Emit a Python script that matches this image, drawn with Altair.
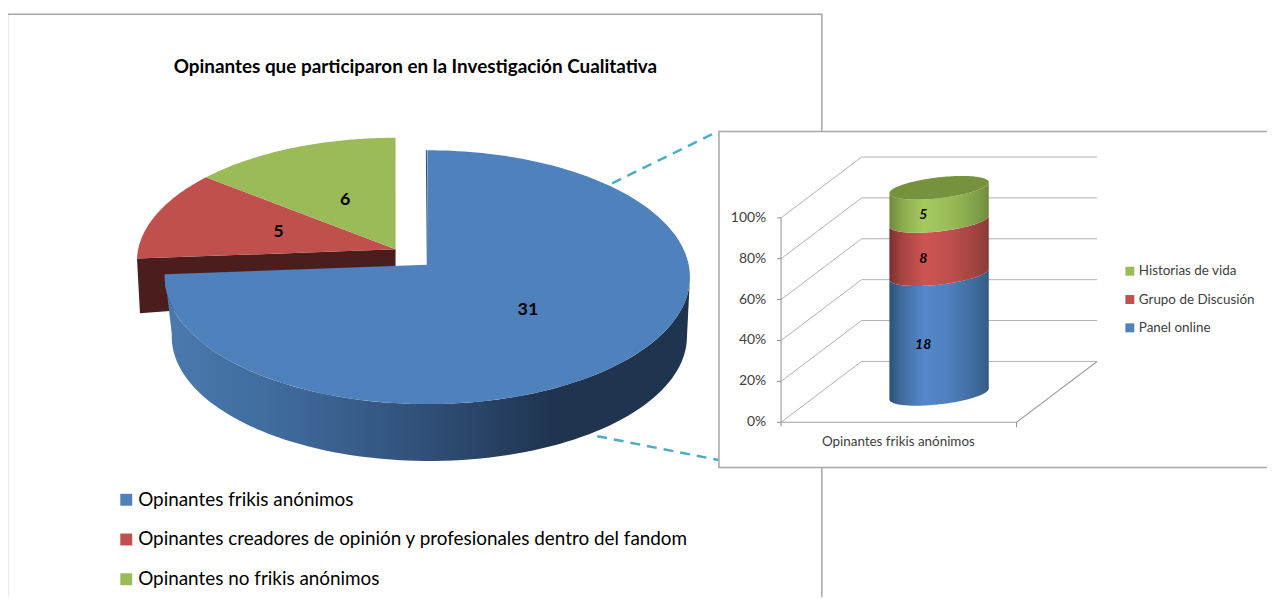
import math
import altair as alt
import pandas as pd

# ---- values
pie_categories = ["Opinantes frikis anónimos",
                  "Opinantes creadores de opinión y profesionales dentro del fandom",
                  "Opinantes no frikis anónimos"]
pie_values = [31, 5, 6]
pie_colors = ["#4f81bd", "#c0504d", "#9bbb59"]
stack_categories = ["Panel online", "Grupo de Discusión", "Historias de vida"]
stack_values = [18, 8, 5]
stack_colors = ["#4f81bd", "#c0504d", "#9bbb59"]
pct_ticks = [0, 20, 40, 60, 80, 100]
title_text = "Opinantes que participaron en la Investigación Cualitativa"
bar_category = "Opinantes frikis anónimos"

FONT = "Lato"
GRAY = "#a6a6a6"
TXT = "#404040"
X = alt.X("x:Q", scale=alt.Scale(domain=[8, 1275], nice=False, zero=False), axis=None)
Y = alt.Y("y:Q", scale=alt.Scale(domain=[599, 8], nice=False, zero=False), axis=None)
layers = []


def poly(points, fill):
    df = pd.DataFrame({"x": [p[0] for p in points], "y": [p[1] for p in points],
                       "o": list(range(len(points)))})
    layers.append(alt.Chart(df).mark_line(interpolate="linear-closed", fill=fill, strokeWidth=0)
                  .encode(x=X, y=Y, order="o:Q"))


def path(points, color, width=1.0, dash=None):
    df = pd.DataFrame({"x": [p[0] for p in points], "y": [p[1] for p in points],
                       "o": list(range(len(points)))})
    kw = {"strokeDash": dash} if dash else {}
    layers.append(alt.Chart(df).mark_line(color=color, strokeWidth=width, strokeCap="butt", **kw)
                  .encode(x=X, y=Y, order="o:Q"))


def text(s, x, y, size, color="#000000", weight="normal", style="normal", align="left"):
    df = pd.DataFrame({"x": [x], "y": [y], "t": [str(s)]})
    layers.append(alt.Chart(df).mark_text(font=FONT, fontSize=size, color=color, fontWeight=weight,
                                          fontStyle=style, align=align, baseline="middle")
                  .encode(x=X, y=Y, text="t:N"))


def swatch(x, y, side, color):
    df = pd.DataFrame({"x": [x], "y": [y]})
    layers.append(alt.Chart(df).mark_square(size=side * side, color=color, opacity=1, filled=True)
                  .encode(x=X, y=Y))


def hgrad(stops):
    return alt.Gradient(gradient="linear", x1=0, x2=1, y1=0, y2=0,
                        stops=[alt.GradientStop(offset=o, color=c) for o, c in stops])


# ---- outer frame
path([(7.5, 599), (7.5, 12.5), (827, 12.5), (827, 599)], GRAY, 1.5)
text(title_text, 418, 66, 19, weight="bold", align="center")

# ---- pie in perspective, angles from the values
K = 0.098
total = sum(pie_values)
angles = []
acc = 0
for v in pie_values:
    angles.append((acc * 360 / total, (acc + v) * 360 / total))
    acc += v


def proj(t, cx, cy, a, b):
    u, v = math.sin(math.radians(t)), math.cos(math.radians(t))
    d = 1 + K * v
    return (cx + a * u / d, cy - b * v / d)


def arc(t0, t1, cx, cy, a, b, n=90):
    return [proj(t0 + (t1 - t0) * i / n, cx, cy, a, b) for i in range(n + 1)]


BLUE = (430, 264.5, 263, 126.5)
BLUE_LOW = (432, 324.5, 258, 124)
EXPL = (398, 249, 259, 123.3)

# dark cut face of the red slice
r_end = proj(angles[1][0], *EXPL)
poly([(EXPL[0], EXPL[1]), r_end, (r_end[0] + 3, r_end[1] + 55), (EXPL[0], EXPL[1] + 45)], "#4b1e1d")
# exploded slices
for i in (1, 2):
    poly([(EXPL[0], EXPL[1])] + arc(angles[i][0], angles[i][1], *EXPL), pie_colors[i])
# blue wall
t_end = angles[0][1]
poly(arc(96, t_end, *BLUE) + arc(t_end, 96, *BLUE_LOW),
     hgrad([(0, "#4a7aaf"), (0.25, "#3d6899"), (0.5, "#304f78"), (0.74, "#1f344f"), (1, "#1f344f")]))
path([(BLUE[0] - 1, 149), (BLUE[0], BLUE[1])], "#2c4a70", 1)
# blue top face
poly([(BLUE[0], BLUE[1])] + arc(angles[0][0], t_end, *BLUE, n=180), pie_colors[0])

# pie labels at 49% of the radius along each slice's middle angle
for i, v in enumerate(pie_values):
    mid = sum(angles[i]) / 2
    g = BLUE if i == 0 else EXPL
    lx, ly = proj(mid, g[0], g[1], g[2] * 0.49, g[3] * 0.49)
    text(v, lx, ly, 18, weight="bold", align="center")

# pie legend
for i, c in enumerate(pie_categories):
    swatch(127, 501 + 40 * i, 12, pie_colors[i])
    text(c, 139, 501 + 40 * i, 19, color="#000000")

# connector lines
path([(616, 182.5), (723, 130)], "#4bacc6", 2.5, dash=[10, 7])
path([(601, 437), (723, 461)], "#4bacc6", 2.5, dash=[10, 7])

# ---- inset box
poly([(723.5, 130.5), (1285, 130.5), (1285, 468.5), (723.5, 468.5)], "#ffffff")
path([(1285, 130.5), (723.5, 130.5), (723.5, 468.5), (1285, 468.5)], GRAY, 1.5)

# 3-D axes and walls
Y0, Y100 = 423, 217.3
BX, BY = 81, -61.2
FRONT_R = 1023
BACK_R = 1104


def py(p):
    return Y0 + (Y100 - Y0) * p / 100


for p in pct_ticks:
    path([(786, py(p)), (786 + BX, py(p) + BY), (BACK_R, py(p) + BY)], "#b0b0b0", 1)
    path([(782, py(p)), (786, py(p))], "#8c8c8c", 1)
    text(f"{p}%", 771, py(p), 14, color=TXT, align="right")
path([(786, py(100)), (786, py(0) + 4)], "#a0a0a0", 1.2)
path([(786, py(0)), (FRONT_R, py(0)), (BACK_R, py(0) + BY)], "#a0a0a0", 1.2)
path([(FRONT_R, py(0)), (FRONT_R, py(0) + 5)], "#8c8c8c", 1)
text(bar_category, 904, 443, 13.5, color=TXT, align="center")

# stacked cylinder from the values
CX, RX, RY, TILT = 945, 50, 10.5, 5.5
CY0, CY1 = 394.5, 187
stotal = sum(stack_values)


def ell(p, cy):
    a = math.radians(p)
    return (CX + RX * math.cos(a), cy - TILT * math.cos(a) + RY * math.sin(a))


def front(cy, rev=False):
    r = range(0, 61)
    pts = [ell(180 * i / 60, cy) for i in r]
    return pts[::-1] if rev else pts


grads = [[(0, "#2f5175"), (0.12, "#3f6c9f"), (0.35, "#5588cb"), (0.6, "#4f80bd"), (0.88, "#3d6a9b"), (1, "#345a80")],
         [(0, "#7a302e"), (0.12, "#a54341"), (0.35, "#cd5452"), (0.6, "#c0504d"), (0.88, "#9e423f"), (1, "#8a3a38")],
         [(0, "#6d8a3c"), (0.12, "#8aa94e"), (0.35, "#a6ca5e"), (0.6, "#9bbb59"), (0.88, "#80a048"), (1, "#6f8c3e")]]
acc = 0
for i, v in enumerate(stack_values):
    c0 = CY0 + (CY1 - CY0) * acc / stotal
    c1 = CY0 + (CY1 - CY0) * (acc + v) / stotal
    poly(front(c0) + front(c1, rev=True), hgrad(grads[i]))
    text(v, 929, (c0 + c1) / 2 + 11, 14, weight="bold", style="italic", align="center")
    acc += v
poly([ell(3 * i, CY1) for i in range(120)], "#76923c")

# inset legend
for i, c in enumerate(stack_categories):
    yy = 328 - 28.5 * i
    swatch(1137, yy, 9, stack_colors[i])
    text(c, 1146, yy, 13.5, color=TXT)

chart = alt.layer(*layers).properties(width=1267, height=591, padding=0, autosize="none",
                                      background="#ffffff"
                                      ).configure_view(stroke=None)
chart.save("out.html", embed_options={"renderer": "svg", "actions": False})
